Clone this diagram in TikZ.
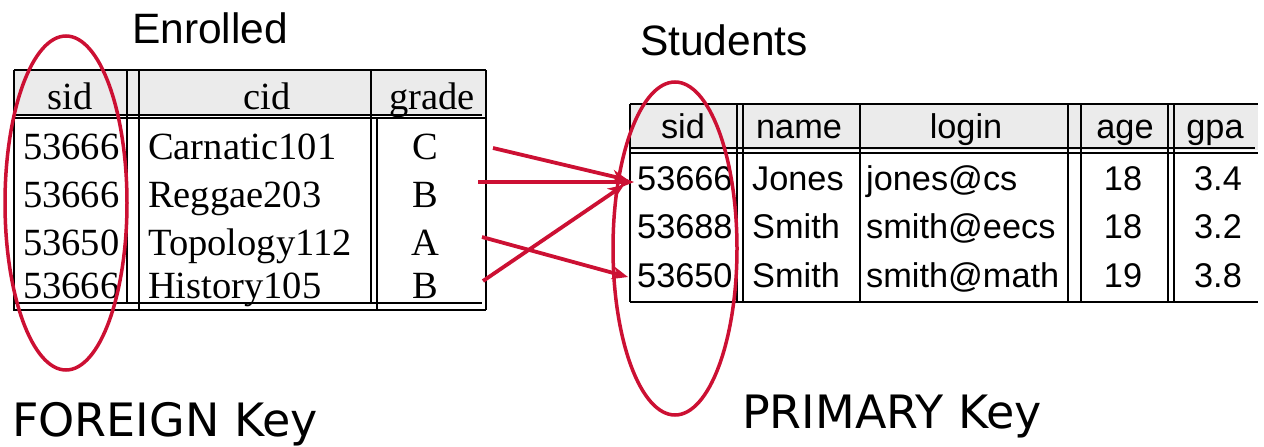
\documentclass[tikz,border=0pt]{standalone}
\usepackage{fontspec}
\setmainfont{Liberation Serif}
\newfontfamily\tnr{Liberation Serif}
\newfontfamily\ars{Liberation Sans}
\newfontfamily\dvs{DejaVu Sans}
\usetikzlibrary{arrows.meta}
\definecolor{keyred}{RGB}{204,16,51}
\definecolor{hdrgray}{RGB}{235,235,235}
\begin{document}
\begin{tikzpicture}[x=1pt,y=-1pt,
  tline/.style={line width=1.6pt,black},
  etxt/.style={inner sep=0pt,font=\tnr\fontsize{38.5}{44}\selectfont},
  stxt/.style={inner sep=0pt,font=\ars\fontsize{34.3}{40}\selectfont},
  ttl/.style={inner sep=0pt,anchor=base west,font=\ars\fontsize{42.5}{50}\selectfont},
  keylbl/.style={inner sep=0pt,anchor=base west,font=\dvs\fontsize{46}{54}\selectfont},
  keyell/.style={draw=keyred,line width=3.5pt},
  fkarrow/.style={draw=keyred,line width=3.8pt,-{Stealth[length=16pt,width=13pt,inset=5pt]}}]
\useasboundingbox (0,0) rectangle (1264,447);

% ---------- Enrolled table ----------
\fill[hdrgray] (14,70) rectangle (486,116);
\draw[tline] (14,70) -- (486,70);
\draw[tline] (14,70) -- (14,311);
\draw[tline] (486,70) -- (486,310);
\draw[tline] (14,115) -- (482,115);
\draw[tline] (14,118) -- (486,118);
\draw[tline] (127,70) -- (127,303);
\draw[tline] (139,70) -- (139,310);
\draw[tline] (371,70) -- (371,303);
\draw[tline] (377,118) -- (377,310);
\draw[tline] (14,303) -- (482,303);
\draw[tline] (14,310) -- (486,310);

\node[etxt,anchor=base] (eh1) at (70,109) {sid};
\node[etxt,anchor=base] (eh2) at (267,109) {cid};
\node[etxt,anchor=base] (eh3) at (432,109) {grade};

\node[etxt,anchor=base west] (e11) at (23,159) {53666};
\node[etxt,anchor=base west] (e12) at (148,159) {Carnatic101};
\node[etxt,anchor=base] (e13) at (425,159) {C};
\node[etxt,anchor=base west] (e21) at (23,207) {53666};
\node[etxt,anchor=base west] (e22) at (148,207) {Reggae203};
\node[etxt,anchor=base] (e23) at (425,207) {B};
\node[etxt,anchor=base west] (e31) at (23,255) {53650};
\node[etxt,anchor=base west] (e32) at (148,255) {Topology112};
\node[etxt,anchor=base] (e33) at (425,255) {A};
\node[etxt,anchor=base west] (e41) at (23,298) {53666};
\node[etxt,anchor=base west] (e42) at (148,298) {History105};
\node[etxt,anchor=base] (e43) at (425,298) {B};

% ---------- Students table ----------
\fill[hdrgray] (630,104) rectangle (1258,150);
\draw[tline] (630,104) -- (1258,104);
\draw[tline] (630,104) -- (630,302);
\draw[tline] (630,148) -- (1255,148);
\draw[tline] (630,153) -- (1258,153);
\foreach \cx in {737,743,860,1068,1081,1168,1174}{
  \draw[tline] (\cx,104) -- (\cx,302);
}
\draw[tline] (630,302) -- (1258,302);

\node[stxt,anchor=base] (sh1) at (683,138) {sid};
\node[stxt,anchor=base] (sh2) at (799,138) {name};
\node[stxt,anchor=base] (sh3) at (966,138) {login};
\node[stxt,anchor=base] (sh4) at (1125,138) {age};
\node[stxt,anchor=base] (sh5) at (1215,138) {gpa};

\node[stxt,anchor=base west] (s11) at (637,190) {53666};
\node[stxt,anchor=base west] (s12) at (752,190) {Jones};
\node[stxt,anchor=base west] (s13) at (866,190) {jones@cs};
\node[stxt,anchor=base] (s14) at (1123,190) {18};
\node[stxt,anchor=base] (s15) at (1218,190) {3.4};
\node[stxt,anchor=base west] (s21) at (637,238) {53688};
\node[stxt,anchor=base west] (s22) at (752,238) {Smith};
\node[stxt,anchor=base west] (s23) at (866,238) {smith@eecs};
\node[stxt,anchor=base] (s24) at (1123,238) {18};
\node[stxt,anchor=base] (s25) at (1218,238) {3.2};
\node[stxt,anchor=base west] (s31) at (637,287) {53650};
\node[stxt,anchor=base west] (s32) at (752,287) {Smith};
\node[stxt,anchor=base west] (s33) at (866,287) {smith@math};
\node[stxt,anchor=base] (s34) at (1123,287) {19};
\node[stxt,anchor=base] (s35) at (1218,287) {3.8};

% ---------- titles ----------
\node[ttl] (tEnr) at (132,43) {Enrolled};
\node[ttl] (tStu) at (640,55) {Students};
\node[keylbl] (fk) at (12,436) {FOREIGN Key};
\node[keylbl] (pk) at (742,428) {PRIMARY Key};

% ---------- key ellipses ----------
\draw[keyell] (66,203) ellipse [x radius=61, y radius=167];
\draw[keyell] (675,248.5) ellipse [x radius=62, y radius=166.5];

% ---------- reference arrows ----------
\coordinate (f1) at (493,148);
\coordinate (f2) at (478,182);
\coordinate (f3) at (482,237);
\coordinate (f4) at (483,281);
\coordinate (p1a) at (628,180);
\coordinate (p1b) at (634,182);
\coordinate (p1c) at (624,185);
\coordinate (p3) at (628,277);
\draw[fkarrow] (f1) -- (p1a);
\draw[fkarrow] (f2) -- (p1b);
\draw[fkarrow] (f3) -- (p3);
\draw[fkarrow] (f4) -- (p1c);
\end{tikzpicture}
\end{document}
